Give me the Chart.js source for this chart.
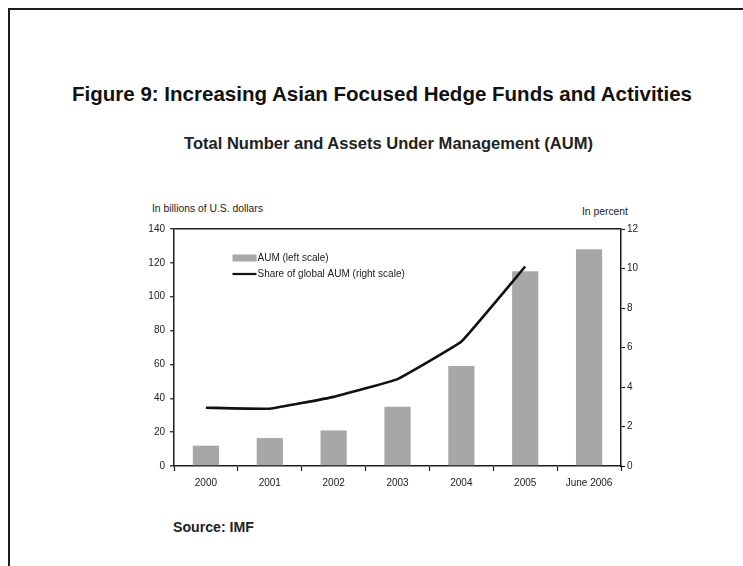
<!DOCTYPE html>
<html>
<head>
<meta charset="utf-8">
<script src="https://cdn.jsdelivr.net/npm/chart.js@4.4.1/dist/chart.umd.min.js"></script>
<style>
  html, body { margin: 0; padding: 0; background: #fff; }
  body { width: 743px; height: 566px; position: relative; overflow: hidden;
         font-family: "Liberation Sans", Arial, sans-serif; color: #111; }
  #frame { position: absolute; left: 8px; top: 8px; width: 760px; height: 580px;
           border-top: 2px solid #1c1c1c; border-left: 2px solid #1c1c1c; }
  .t { position: absolute; white-space: nowrap; line-height: 1; transform-origin: 0 0; }
  #title { left: 72px; top: 84px; font-size: 20.5px; font-weight: bold; }
  #subtitle { left: 184px; top: 134.5px; font-size: 16.5px; font-weight: bold; color: #222; }
  #source { left: 173px; top: 520px; font-size: 14px; font-weight: bold; color: #222; }
  #unitL { left: 152px; top: 204px; font-size: 10px; color: #222; }
  #unitR { left: 582px; top: 207px; font-size: 10px; color: #222; }
  canvas { position: absolute; left: 0; top: 0; }
</style>
</head>
<body>
<div id="frame"></div>
<div class="t" id="title" data-w="620">Figure 9: Increasing Asian Focused Hedge Funds and Activities</div>
<div class="t" id="subtitle" data-w="409">Total Number and Assets Under Management (AUM)</div>
<div class="t" id="unitL" data-w="111">In billions of U.S. dollars</div>
<div class="t" id="unitR" data-w="46">In percent</div>
<div class="t" id="source" data-w="81">Source: IMF</div>
<canvas id="chart" width="743" height="566"></canvas>
<script>
// Categories and series
const categories = ['2000', '2001', '2002', '2003', '2004', '2005', 'June 2006'];
const aumBillions = [12, 16.5, 21, 35, 59, 115, 128];          // left scale
const shareOfGlobal = [2.95, 2.9, 3.5, 4.4, 6.3, 10.1, null];   // right scale, percent
const leftTicks = [0, 20, 40, 60, 80, 100, 120, 140];
const rightTicks = [0, 2, 4, 6, 8, 10, 12];
const seriesNames = ['AUM (left scale)', 'Share of global AUM (right scale)'];

// Fit heading texts to their set widths
document.querySelectorAll('.t[data-w]').forEach(el => {
  const w = el.getBoundingClientRect().width;
  const target = parseFloat(el.dataset.w);
  if (w > 0) el.style.transform = 'scaleX(' + (target / w).toFixed(4) + ')';
});

const INK = '#1e1e1e';
const BAR = '#a7a7a7';
const FONT = '"Liberation Sans", Arial, sans-serif';

// Legend drawn inside the plot area, top-left
const innerLegend = {
  id: 'innerLegend',
  afterDatasetsDraw(chart) {
    const { ctx, chartArea } = chart;
    const x0 = chartArea.left + 58.5;
    const rows = [chartArea.top + 29, chartArea.top + 45];
    ctx.save();
    ctx.font = '10px ' + FONT;
    ctx.textBaseline = 'middle';
    chart.data.datasets.forEach((ds, i) => {
      const y = rows[i];
      if (ds.type === 'bar') {
        ctx.fillStyle = ds.backgroundColor;
        ctx.fillRect(x0, y - 3.5, 24, 7);
      } else {
        ctx.strokeStyle = ds.borderColor;
        ctx.lineWidth = 2.2;
        ctx.beginPath();
        ctx.moveTo(x0, y);
        ctx.lineTo(x0 + 24, y);
        ctx.stroke();
      }
      ctx.fillStyle = '#222';
      ctx.fillText(ds.label, x0 + 25, y);
    });
    ctx.restore();
  }
};

new Chart(document.getElementById('chart'), {
  data: {
    labels: categories,
    datasets: [
      {
        type: 'bar',
        label: seriesNames[0],
        data: aumBillions,
        yAxisID: 'yL',
        backgroundColor: BAR,
        barPercentage: 0.41,
        categoryPercentage: 1,
        order: 1
      },
      {
        type: 'line',
        label: seriesNames[1],
        data: shareOfGlobal,
        yAxisID: 'yR',
        borderColor: '#111',
        borderWidth: 2.6,
        pointRadius: 0,
        tension: 0.08,
        order: 0
      }
    ]
  },
  options: {
    responsive: false,
    animation: false,
    devicePixelRatio: 1,
    layout: { padding: { left: 120, top: 229, right: 82, bottom: 70 } },
    plugins: { legend: { display: false }, tooltip: { enabled: false } },
    scales: {
      x: {
        type: 'category',
        offset: true,
        afterFit(s) { s.height = 30; },
        border: { display: true, color: INK, width: 1.5 },
        grid: { offset: true, drawOnChartArea: false, drawTicks: true, tickLength: 5, tickColor: INK, tickWidth: 1.2 },
        ticks: { color: '#222', font: { family: FONT, size: 10 }, padding: 6, maxRotation: 0, autoSkip: false }
      },
      yL: {
        type: 'linear',
        position: 'left',
        min: 0, max: 140,
        afterFit(s) { s.width = 54; },
        afterBuildTicks(s) { s.ticks = leftTicks.map(v => ({ value: v })); },
        border: { display: true, color: INK, width: 1.5 },
        grid: {
          drawOnChartArea: true,
          color: c => (c.tick && c.tick.value === 140 ? INK : 'rgba(0,0,0,0)'),
          lineWidth: 1.5,
          tickLength: 4, tickColor: INK, tickWidth: 1.2
        },
        ticks: { color: '#222', font: { family: FONT, size: 10 }, padding: 5 }
      },
      yR: {
        type: 'linear',
        position: 'right',
        min: 0, max: 12,
        afterFit(s) { s.width = 40; },
        afterBuildTicks(s) { s.ticks = rightTicks.map(v => ({ value: v })); },
        border: { display: true, color: INK, width: 1.5 },
        grid: { drawOnChartArea: false, tickLength: 4, tickColor: INK, tickWidth: 1.2 },
        ticks: { color: '#222', font: { family: FONT, size: 10 }, padding: 2 }
      }
    }
  },
  plugins: [innerLegend]
});
</script>
</body>
</html>
